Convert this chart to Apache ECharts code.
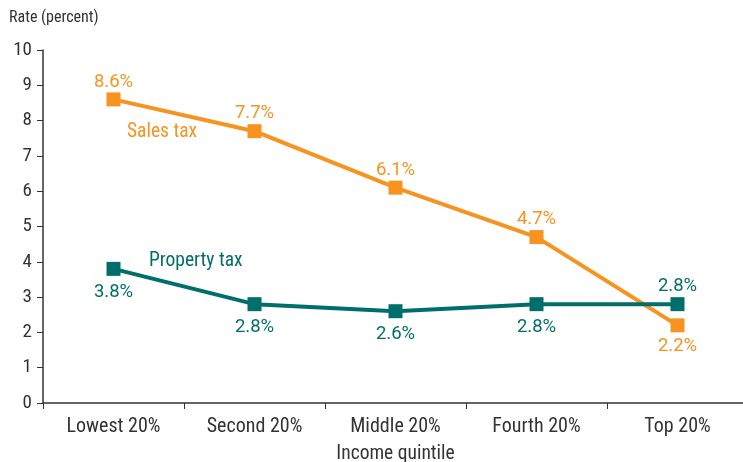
<!DOCTYPE html>
<html><head><meta charset="utf-8">
<script src="https://cdn.jsdelivr.net/npm/echarts@6/dist/echarts.min.js"></script>
<style>html,body{margin:0;padding:0;background:#fff}#c{width:743px;height:462px}</style>
</head><body><div id="c"></div>
<script>
var categories = ['Lowest 20%', 'Second 20%', 'Middle 20%', 'Fourth 20%', 'Top 20%'];
var salesTax = [8.6, 7.7, 6.1, 4.7, 2.2];
var propertyTax = [3.8, 2.8, 2.6, 2.8, 2.8];
var yTicks = [0, 1, 2, 3, 4, 5, 6, 7, 8, 9, 10];

var FONT = '"Roboto Condensed", "Liberation Sans Narrow", Roboto, sans-serif';
var LFONT = 'Roboto, "Noto Sans", sans-serif';
var ORANGE = '#F7931E';
var TEAL = '#006F6B';
function pctLabel(p) { return p.value.toFixed(1) + '%'; }
var chart = echarts.init(document.getElementById('c'), null, {renderer: 'canvas'});
chart.setOption({
  animation: false,
  textStyle: {fontFamily: FONT},
  grid: {left: 43, top: 50, width: 705, height: 353, containLabel: false, outerBoundsMode: 'none'},
  xAxis: {
    type: 'category', data: categories, boundaryGap: true,
    name: 'Income quintile', nameLocation: 'middle', nameGap: 41,
    nameTextStyle: {fontFamily: FONT, fontSize: 19.5, color: '#333'},
    axisLine: {lineStyle: {color: '#333', width: 1.5}},
    axisTick: {show: true, length: 6, inside: false, lineStyle: {color: '#333'}},
    axisLabel: {fontFamily: FONT, fontSize: 20, color: '#333', margin: 14, interval: 0}
  },
  yAxis: {
    type: 'value', min: yTicks[0], max: yTicks[yTicks.length - 1], interval: 1,
    splitLine: {show: false},
    axisLine: {show: true, lineStyle: {color: '#333', width: 1.5}},
    axisTick: {show: true, length: 6, lineStyle: {color: '#333'}},
    axisLabel: {fontFamily: FONT, fontSize: 19, color: '#333', margin: 11}
  },
  graphic: [
    {type: 'text', x: 9, y: 18, style: {text: 'Rate (percent)', font: '16px ' + FONT, fill: '#333', verticalAlign: 'middle'}},
    {type: 'text', x: 127, y: 132, style: {text: 'Sales tax', font: '19.5px ' + FONT, fill: ORANGE, verticalAlign: 'middle'}},
    {type: 'text', x: 149, y: 261, style: {text: 'Property tax', font: '19.5px ' + FONT, fill: TEAL, verticalAlign: 'middle'}}
  ],
  series: [
    {
      name: 'Sales tax', type: 'line', data: salesTax.map(function (v, i) {
        var last = i === salesTax.length - 1;
        return {value: v, label: {position: last ? 'bottom' : 'top', distance: last ? 5 : 1}};
      }),
      symbol: 'rect', symbolSize: 14,
      lineStyle: {color: ORANGE, width: 4},
      itemStyle: {color: ORANGE},
      label: {show: true, fontFamily: LFONT, fontSize: 18.5, color: ORANGE, formatter: pctLabel}
    },
    {
      name: 'Property tax', type: 'line', data: propertyTax.map(function (v, i) {
        var last = i === propertyTax.length - 1;
        return {value: v, label: {position: last ? 'top' : 'bottom', distance: last ? 1 : 7}};
      }),
      symbol: 'rect', symbolSize: 14,
      lineStyle: {color: TEAL, width: 4},
      itemStyle: {color: TEAL},
      label: {show: true, fontFamily: LFONT, fontSize: 18.5, color: TEAL, formatter: pctLabel}
    }
  ]
});
</script></body></html>
